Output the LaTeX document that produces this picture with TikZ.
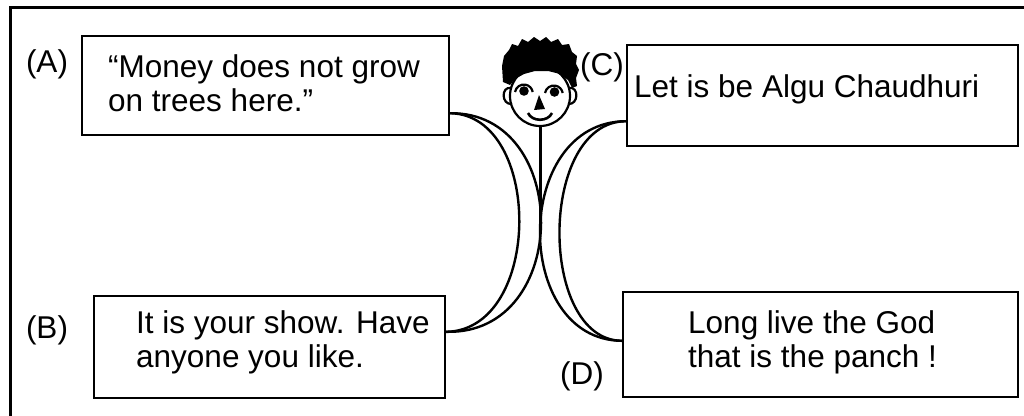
\documentclass[tikz,border=0pt]{standalone}
\usepackage{fontspec}
\setmainfont{Liberation Sans}
\usetikzlibrary{calc}
\tikzset{
  box/.style={draw, line width=2.4pt, inner sep=0pt},
  txt/.style={inner sep=0pt, align=left, anchor=north west, text=black, font=\fontsize{31.5}{34.5}\selectfont},
  lbl/.style={inner sep=0pt, anchor=base, text=black, font=\fontsize{31.5}{34.5}\selectfont},
  link/.style={line width=2.4pt},
  face/.style={line width=2.2pt},
}
\begin{document}
\begin{tikzpicture}[x=1pt,y=-1pt]
\useasboundingbox (0,0) rectangle (1024,415);
\clip (0,0) rectangle (1024,415);
\fill[white] (0,0) rectangle (1024,415);
% outer frame (cropped)
\draw[line width=3pt] (10,440) -- (10,7) -- (1060,7);
% boxes
\node[box, minimum width=367pt, minimum height=99pt] (A) at (265.5,85.5) {};
\node[box, minimum width=351pt, minimum height=102pt] (B) at (269.5,347) {};
\node[box, minimum width=391pt, minimum height=101pt] (C) at (822.5,95.5) {};
\node[box, minimum width=395pt, minimum height=105pt] (D) at (820.5,344.5) {};
% texts
\node[txt] (At) at (108,54) {“Money does not grow\\on trees here.”};
\node[txt] (Bt) at (136,310) {It is your show. Have\\anyone you like.};
\node[txt, anchor=base west] (Ct) at (634,97) {Let is be Algu Chaudhuri};
\node[txt] (Dt) at (688,310) {Long live the God\\that is the panch !};
% labels
\node[lbl] (La) at (47,72) {(A)};
\node[lbl] (Lb) at (47,338) {(B)};
\node[lbl] (Lc) at (602,75) {(C)};
\node[lbl] (Ld) at (582,384) {(D)};
% attachment points
\coordinate (a1) at ($(A.south east)+(0,-23)$);
\coordinate (b1) at ($(B.north east)+(0,37)$);
\coordinate (c1) at ($(C.south west)+(0,-26)$);
\coordinate (d1) at ($(D.north west)+(0,50)$);
% crescents
\draw[link] (a1) .. controls (543,115) and (543,330) .. (b1);
\draw[link] (a1) .. controls (572,112) and (572,335) .. (b1);
\draw[link] (c1) .. controls (538,122) and (538,340) .. (d1);
\draw[link] (c1) .. controls (512,122) and (512,340) .. (d1);
% stem
\coordinate (neck) at (540,125);
\coordinate (hip) at (540,222);
\draw[line width=3pt] (neck) -- (hip);
% face
\draw[face] (540,96) circle[radius=30];
% ears
\draw[face] (511,88) .. controls (501,86) and (501,105) .. (512,104);
\draw[face] (569,88) .. controls (579,86) and (579,105) .. (568,104);
% hair
\fill[black] (503,82) -- (502,66) -- (504,56) -- (509,50) -- (512,44) -- (518,46) -- (522,39)
  -- (528,42) -- (534,37) -- (540,41) -- (546,37) -- (551,42) -- (558,39) -- (562,45)
  -- (569,44) -- (572,52) -- (577,56) -- (576,64) -- (579,70) -- (576,78) -- (577,86)
  -- (572,88) -- (568,80) -- (560,74) -- (548,71) -- (535,71) -- (524,74) -- (515,79)
  -- (510,85) -- cycle;
% eyes
\draw[face] (515,92) arc[start angle=170, end angle=10, x radius=9, y radius=-9];
\draw[face] (545,93) arc[start angle=170, end angle=10, x radius=9, y radius=-9];
\fill (524,91) circle[radius=4.8];
\fill (554.5,92) circle[radius=4.8];
% nose
\fill (539,95) -- (534,110) -- (545,109) -- cycle;
% smile
\draw[line width=2.6pt] (528,113) .. controls (532,122) and (548,122) .. (552,113);
\end{tikzpicture}
\end{document}
